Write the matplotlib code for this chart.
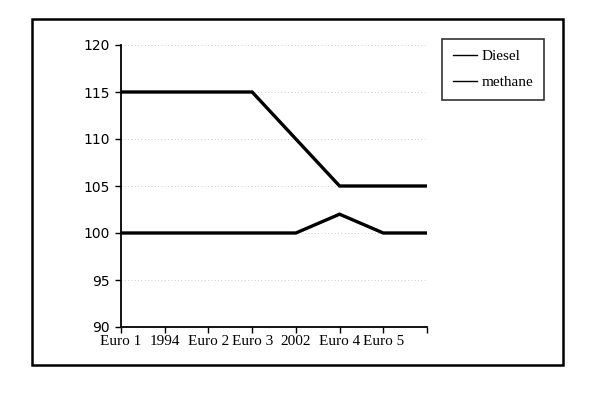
import matplotlib
matplotlib.use("Agg")
import matplotlib.pyplot as plt
from matplotlib.patches import Rectangle
from matplotlib.lines import Line2D

categories = ["Euro 1", "1994", "Euro 2", "Euro 3", "2002", "Euro 4", "Euro 5"]
diesel = [115, 115, 115, 115, 110, 105, 105, 105]
methane = [100, 100, 100, 100, 100, 102, 100, 100]
y_ticks = [90, 95, 100, 105, 110, 115, 120]

fig = plt.figure(figsize=(6.0, 3.95), dpi=100)
fig.patch.set_facecolor("white")

# outer frame
fig.patches.append(Rectangle((32/600, 1-365/395), (563-32)/600, (365-19)/395,
                             transform=fig.transFigure, fill=False,
                             edgecolor="black", linewidth=1.8))

ax = fig.add_axes([121/600, 1-327/395, (427-121)/600, (327-45)/395])
x = list(range(len(diesel)))
ax.plot(x, diesel, color="black", linewidth=2.4, solid_joinstyle="miter")
ax.plot(x, methane, color="black", linewidth=2.4, solid_joinstyle="miter")

ax.set_xlim(0, len(diesel) - 1)
ax.set_ylim(90, 120)
ax.set_yticks(y_ticks)
ax.set_yticklabels([str(v) for v in y_ticks], fontsize=10, family="DejaVu Sans")
for yv in y_ticks[1:]:
    ax.axhline(yv, color="#bbbbbb", linewidth=0.6, linestyle=(0, (1, 3)), zorder=0)

ax.set_xticks(x)
ax.set_xticklabels(categories + [""] * (len(x) - len(categories)),
                   fontsize=11, family="Liberation Serif")

ax.tick_params(axis="both", direction="out", length=4, width=1, colors="black")
ax.tick_params(axis="x", pad=2)
ax.tick_params(axis="y", pad=4)
for s in ["top", "right"]:
    ax.spines[s].set_visible(False)
for s in ["left", "bottom"]:
    ax.spines[s].set_linewidth(1.3)

handles = [Line2D([0], [0], color="black", linewidth=1.0),
           Line2D([0], [0], color="black", linewidth=1.0)]
leg = fig.legend(handles, ["Diesel", "methane"], loc="upper left",
                 bbox_to_anchor=(442/600, 1-39/395),
                 prop={"family": "Liberation Serif", "size": 11},
                 frameon=True, fancybox=False, handlelength=1.6,
                 handletextpad=0.3, borderpad=0.7, labelspacing=0.8,
                 borderaxespad=0)
leg.get_frame().set_edgecolor("black")
leg.get_frame().set_linewidth(1.2)

fig.savefig("out.png", dpi=100, facecolor="white")
